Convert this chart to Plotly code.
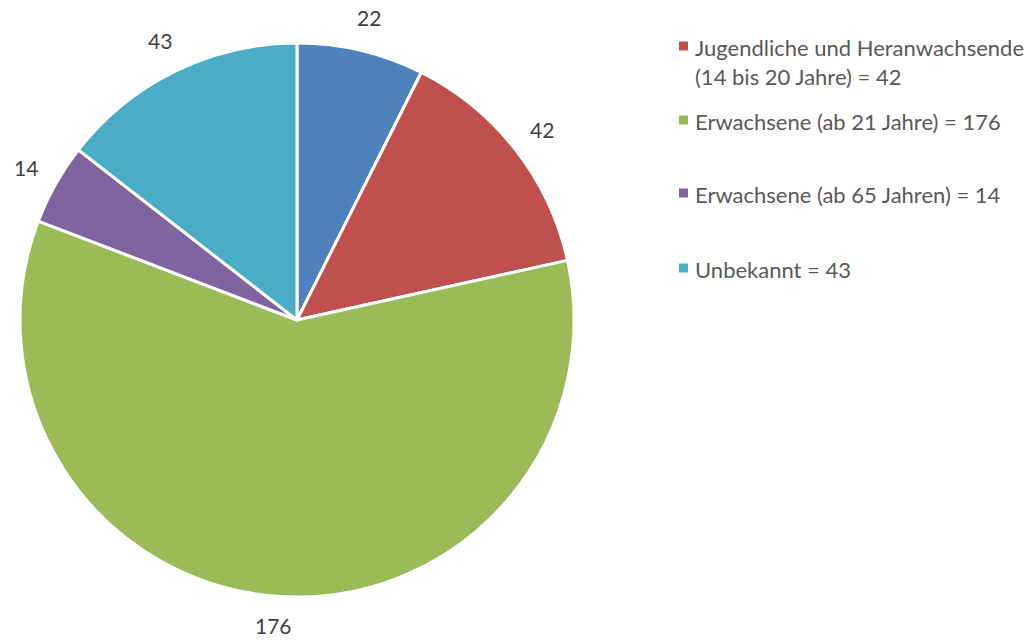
import math
import plotly.graph_objects as go

# Age groups and counts, in drawing order (clockwise from 12 o'clock)
categories = [
    "Kinder (bis 13 Jahre)",
    "Jugendliche und Heranwachsende<br>(14 bis 20 Jahre)",
    "Erwachsene (ab 21 Jahre)",
    "Erwachsene (ab 65 Jahren)",
    "Unbekannt",
]
values = [22, 42, 176, 14, 43]
colors = ["#4F81BD", "#C0504D", "#9BBB59", "#8064A2", "#4BACC6"]
# Legend lists every group except the first
legend_idx = [1, 2, 3, 4]
legend_y_px = [46, 120, 193, 268]

W, H = 1034, 641
cx_px, cy_px, r_px = 297, 320, 277
label_r_px = 311
FONT = "Lato"
LABEL_SIZE = 21

fig = go.Figure(
    go.Pie(
        labels=categories,
        values=values,
        sort=False,
        direction="clockwise",
        rotation=0,
        marker=dict(colors=colors, line=dict(color="white", width=3)),
        textinfo="none",
        hoverinfo="label+value",
        showlegend=False,
        domain=dict(
            x=[(cx_px - r_px) / W, (cx_px + r_px) / W],
            y=[1 - (cy_px + r_px) / H, 1 - (cy_px - r_px) / H],
        ),
    )
)

# Value labels placed just outside each slice along its mid-angle,
# kept inside the canvas vertically
total = sum(values)
cum = 0
annotations = []
for v in values:
    mid = (cum + v / 2) / total * 2 * math.pi
    cum += v
    px = cx_px + label_r_px * math.sin(mid)
    py = cy_px - label_r_px * math.cos(mid)
    py = min(max(py, LABEL_SIZE * 0.75), H - LABEL_SIZE * 0.75)
    annotations.append(
        dict(
            x=px / W, y=1 - py / H, xref="paper", yref="paper",
            text=str(v), showarrow=False,
            xanchor="center", yanchor="middle", borderpad=0,
            font=dict(family=FONT, size=LABEL_SIZE, color="#404040"),
        )
    )

# Legend drawn as square swatches with text
shapes = []
for i, ly in zip(legend_idx, legend_y_px):
    shapes.append(
        dict(
            type="rect", xref="paper", yref="paper",
            x0=679 / W, x1=688 / W, y0=1 - (ly + 4.5) / H, y1=1 - (ly - 4.5) / H,
            fillcolor=colors[i], line=dict(width=0),
        )
    )
    annotations.append(
        dict(
            x=693 / W, y=1 - (ly - 14) / H, xref="paper", yref="paper",
            text=f"{categories[i]} = {values[i]}", showarrow=False,
            xanchor="left", yanchor="top", align="left",
            font=dict(family=FONT, size=22, color="#595959"),
        )
    )

fig.update_layout(
    width=W, height=H,
    margin=dict(l=0, r=0, t=0, b=0),
    paper_bgcolor="white", plot_bgcolor="white",
    annotations=annotations, shapes=shapes,
)

fig.write_html("out.html")
